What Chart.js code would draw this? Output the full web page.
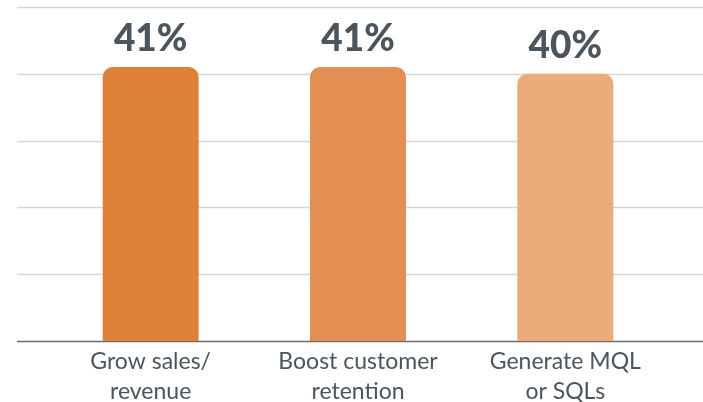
<!DOCTYPE html>
<html>
<head>
<meta charset="utf-8">
<script src="https://cdn.jsdelivr.net/npm/chart.js@4"></script>
<style>
  html, body { margin: 0; padding: 0; background: #fff; }
  #wrap { width: 703px; height: 402px; position: relative; }
</style>
</head>
<body>
<div id="wrap"><canvas id="goals-chart"></canvas></div>
<script>
// datos del gráfico
const categories = [["Grow sales/", "revenue"], ["Boost customer", "retention"], ["Generate MQL", "or SQLs"]];
const values = [41, 41, 40];
const barColors = ["#e08139", "#e48f51", "#ebab7a"];
const yTicks = [0, 10, 20, 30, 40, 50];

const textColor = "#4a555d";

// líneas de cuadrícula a todo el ancho
const fullGrid = {
    id: "fullGrid",
    beforeDatasetsDraw(chart) {
        const ctx = chart.ctx;
        const y = chart.scales.y;
        ctx.save();
        yTicks.forEach(function(t) {
            const py = Math.round(y.getPixelForValue(t)) + 0.5;
            ctx.beginPath();
            ctx.lineWidth = 1.5;
            ctx.strokeStyle = t === 0 ? "#6d6d6d" : "#d6d6d6";
            ctx.moveTo(17, py);
            ctx.lineTo(chart.width, py);
            ctx.stroke();
        });
        ctx.restore();
    }
};

// etiquetas de valor encima de las barras
const valueLabels = {
    id: "valueLabels",
    afterDatasetsDraw(chart) {
        const ctx = chart.ctx;
        const meta = chart.getDatasetMeta(0);
        ctx.save();
        ctx.font = "900 37px Lato";
        ctx.fillStyle = textColor;
        ctx.textAlign = "center";
        ctx.textBaseline = "alphabetic";
        meta.data.forEach(function(bar, i) {
            ctx.fillText(values[i] + "%", bar.x, bar.y - 16);
        });
        ctx.restore();
    }
};

const ctx = document.getElementById("goals-chart").getContext("2d");
new Chart(ctx, {
    type: "bar",
    data: {
        labels: categories,
        datasets: [{
            data: values,
            backgroundColor: barColors,
            borderWidth: 0,
            borderRadius: { topLeft: 10, topRight: 10, bottomLeft: 0, bottomRight: 0 },
            borderSkipped: false,
            barPercentage: 0.463,
            categoryPercentage: 1
        }]
    },
    options: {
        responsive: true,
        maintainAspectRatio: false,
        animation: false,
        layout: { padding: { left: 47, right: 34, top: 7, bottom: 0 } },
        plugins: {
            legend: { display: false },
            tooltip: { enabled: false }
        },
        scales: {
            x: {
                grid: { display: false },
                border: { display: false },
                ticks: {
                    color: textColor,
                    font: { family: "Lato", size: 23, lineHeight: 1.3 },
                    padding: -2,
                    maxRotation: 0,
                    autoSkip: false
                },
                afterFit: function(s) { s.height = 61; }
            },
            y: {
                display: false,
                min: 0,
                max: 50,
                ticks: { stepSize: 10 }
            }
        }
    },
    plugins: [fullGrid, valueLabels]
});
</script>
</body>
</html>
